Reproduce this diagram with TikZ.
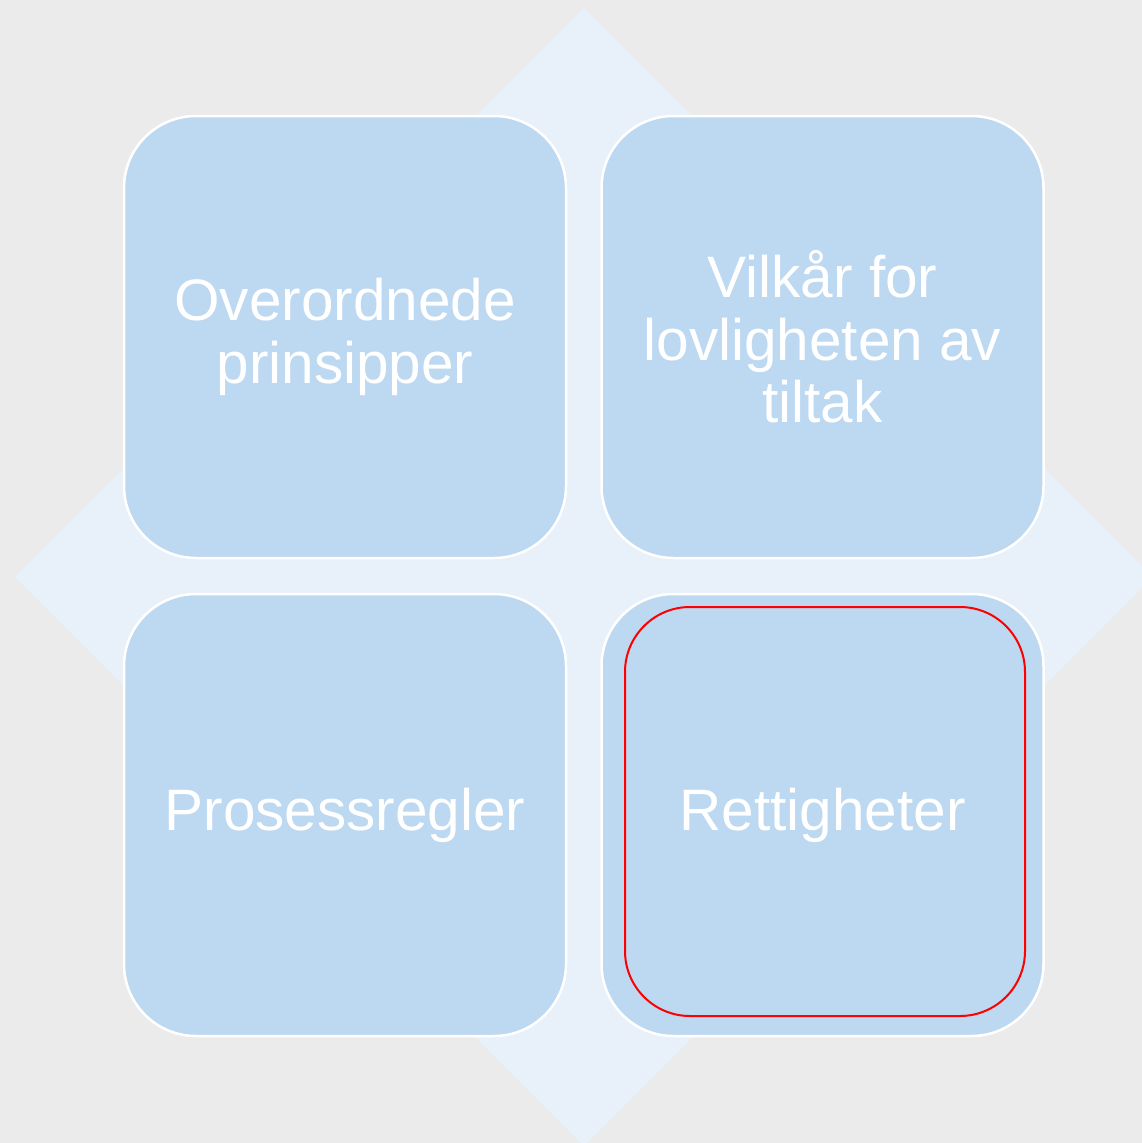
\documentclass[tikz,border=0pt]{standalone}
\usepackage{fontspec}
\setmainfont{Liberation Sans}
\definecolor{bgc}{HTML}{EBEBEB}
\definecolor{diac}{HTML}{E8F0F9}
\definecolor{boxc}{HTML}{BDD8F1}
\begin{document}
\begin{tikzpicture}[x=1pt,y=-1pt,
  quad/.style={draw=white, line width=2.5pt, fill=boxc, rounded corners=72pt,
    minimum width=442pt, minimum height=442pt, inner sep=0pt,
    text=white, align=center, font=\fontsize{58.5}{62.5}\selectfont},
  hilite/.style={draw=red, line width=2pt, rounded corners=65pt,
    minimum width=400pt, minimum height=409pt, inner sep=0pt}]
\path[use as bounding box] (0,0) rectangle (1142,1143);
\fill[bgc] (0,0) rectangle (1142,1143);
\begin{scope}
\clip (0,0) rectangle (1142,1143);
\fill[diac] (584,8) -- (1153,577) -- (584,1146) -- (15,577) -- cycle;
\end{scope}
\node[quad] (tl) at (345,337) {Overordnede\\prinsipper};
\node[quad] (tr) at (822.5,337) {Vilkår for\\lovligheten av\\tiltak};
\node[quad] (bl) at (345,815) {Prosessregler};
\node[quad] (br) at (822.5,815) {Rettigheter};
\node[hilite] (sel) at (825,811.5) {};
\end{tikzpicture}
\end{document}
